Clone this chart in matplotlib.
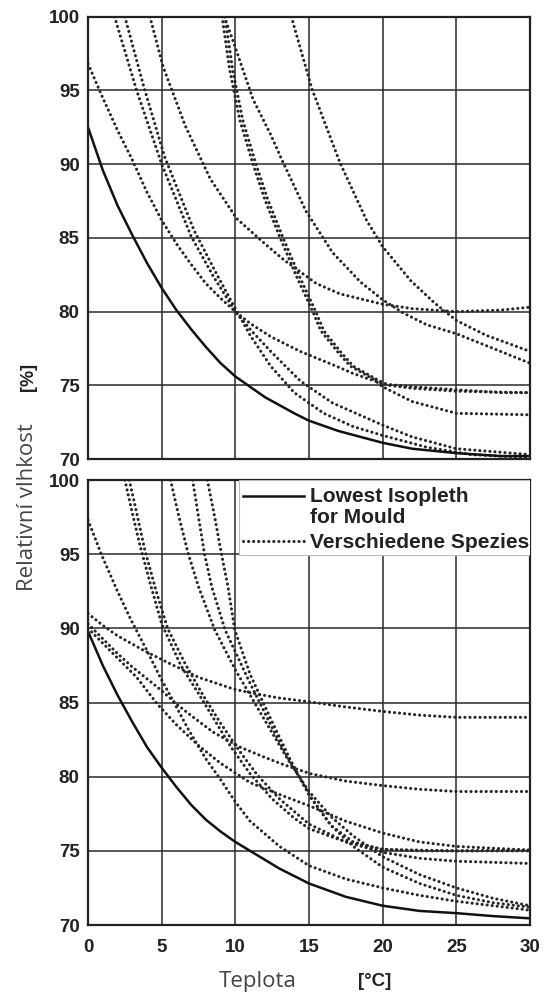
import matplotlib
matplotlib.use("Agg")
import matplotlib.pyplot as plt
from matplotlib.patches import Rectangle

# --- upper panel: lowest isopleth + species isopleths ---
top_solid_t = [0, 1, 2, 3, 4, 5, 6, 7, 8, 9, 10, 12, 14, 15, 17, 20, 22, 25, 28, 30]
top_solid_rh = [92.5, 89.6, 87.2, 85.2, 83.3, 81.6, 80.1, 78.8, 77.6, 76.5, 75.6,
                74.2, 73.1, 72.6, 71.9, 71.1, 70.7, 70.4, 70.2, 70.2]

top_species = [
    ([0, 1, 2, 3, 4, 5, 6, 7, 8, 9, 10, 11, 12.4, 14.4, 16.6, 18, 20, 22, 25, 28, 30],
     [96.8, 94.5, 92.3, 90.3, 88.1, 86.2, 84.6, 83.2, 81.9, 80.9, 80.0, 79.2, 78.3,
      77.3, 76.4, 75.8, 75.1, 74.9, 74.7, 74.5, 74.5]),
    ([1.8, 3.3, 5, 7, 8.5, 10, 11, 12.4, 14.4, 16.6, 20, 22, 25, 30],
     [100, 95, 90, 85.1, 82.4, 80, 78.8, 77.3, 75.3, 73.8, 72.3, 71.5, 70.7, 70.3]),
    ([2.5, 3.8, 5.2, 7.2, 8.7, 10, 11, 12.4, 14, 16, 18, 20, 23, 26, 30],
     [100, 95.2, 90.5, 85.5, 82.6, 80.2, 78.4, 76.3, 74.5, 73.1, 72.2, 71.6, 70.8, 70.3, 70.1]),
    ([4.2, 5.1, 6.6, 8.3, 10.1, 12, 13.3, 15.5, 17.1, 20, 22, 25, 28, 30],
     [100, 96.6, 92.6, 89.0, 86.3, 84.6, 83.5, 81.9, 81.2, 80.5, 80.2, 80.0, 80.1, 80.3]),
    ([9.1, 9.6, 10.3, 11.2, 12, 13, 14.1, 15.3, 15.8, 17, 17.8, 19.4, 20, 22, 25, 30],
     [100, 96.5, 93, 90, 87.6, 85.1, 82.5, 79.9, 78.7, 77.2, 76.3, 75.4, 74.9, 73.9, 73.1, 73.0]),
    ([9.3, 9.8, 10.5, 11.4, 12.2, 13.2, 14.3, 15.5, 16.0, 17.2, 18.0, 19.6, 20.4, 22, 25, 30],
     [100, 96.5, 93, 90, 87.6, 85.1, 82.5, 79.9, 78.7, 77.2, 76.3, 75.4, 75.0, 74.8, 74.6, 74.5]),
    ([9.25, 9.9, 11.2, 12.4, 13.2, 14.8, 16.6, 18.5, 20, 21.4, 23, 25, 27.5, 30],
     [100, 98.2, 94.4, 92.0, 90.2, 86.8, 84.0, 82.0, 80.8, 79.9, 79.1, 78.5, 77.5, 76.5]),
    ([13.8, 15.2, 17.1, 18.9, 20, 21.9, 23.5, 25, 27, 30],
     [100, 95.1, 90.1, 86.2, 84.4, 82.1, 80.6, 79.4, 78.4, 77.3]),
]

# --- lower panel ---
bot_solid_t = [0, 1, 2, 3, 4, 5, 6, 7, 8, 9, 10, 11, 12, 13, 15, 17.5, 20, 22.5, 25, 27.5, 30]
bot_solid_rh = [89.8, 87.5, 85.5, 83.7, 82.0, 80.6, 79.3, 78.1, 77.1, 76.3, 75.6, 75.0,
                74.4, 73.8, 72.8, 71.9, 71.3, 70.95, 70.8, 70.6, 70.45]

bot_species = [
    ([0, 0.9, 2, 2.9, 4, 4.9, 6, 6.8, 8, 9, 10, 11, 13, 15, 17.5, 20, 22.5, 25, 27.5, 30],
     [97.3, 95.0, 92.5, 90.6, 88.5, 86.7, 84.7, 83.2, 81.2, 79.8, 78.3, 77.0, 75.3, 74.0,
      73.1, 72.5, 72.0, 71.6, 71.3, 71.0]),
    ([0, 1, 2, 3.8, 5.6, 7.5, 9.9, 11.3, 13, 15, 17.5, 20, 22.5, 25, 30],
     [91.0, 90.2, 89.5, 88.5, 87.6, 86.7, 85.9, 85.6, 85.3, 85.05, 84.7, 84.4, 84.15, 84.0, 84.0]),
    ([0, 1, 2, 3, 4, 5, 6, 7.15, 8.5, 10.3, 12, 13.3, 15.1, 17.5, 20, 22.5, 25, 30],
     [90.3, 89.3, 88.3, 87.4, 86.6, 85.8, 84.9, 84.0, 83.0, 82.0, 81.3, 80.8, 80.2, 79.7,
      79.4, 79.15, 79.0, 79.0]),
    ([0, 1.5, 3.3, 4.7, 6, 7.5, 9, 11, 13, 15.1, 17.5, 20, 22.5, 25, 30],
     [90.0, 88.5, 86.7, 84.9, 83.5, 82.1, 80.9, 79.6, 78.8, 78.0, 77.0, 76.2, 75.6, 75.3, 75.05]),
    ([2.5, 3.0, 3.5, 4.2, 5.0, 6.3, 7.5, 8.6, 9.7, 11, 12.5, 14, 15, 17.5, 20, 22.5, 25, 30],
     [100, 97.8, 95.7, 93.1, 90.3, 87.5, 85.6, 83.8, 82.0, 80.2, 78.5, 77.2, 76.5, 75.6,
      75.1, 75.05, 75.0, 75.0]),
    ([2.8, 3.3, 3.85, 4.6, 5.4, 6.6, 7.8, 9, 10.3, 11.5, 13, 15, 17.5, 20, 22.5, 25, 30],
     [100, 97.8, 95.3, 92.6, 90.0, 87.6, 85.5, 83.6, 81.7, 80.1, 78.5, 76.8, 75.6, 74.9,
      74.5, 74.3, 74.15]),
    ([5.6, 6.2, 6.8, 7.5, 8.6, 10, 12, 13.6, 15, 16.5, 18, 20, 22.5, 25, 27.5, 30],
     [100, 97.4, 95.05, 92.8, 89.9, 87.2, 83.8, 81.1, 79.0, 77.3, 76.0, 74.6, 73.4, 72.5, 71.8, 71.3]),
    ([7.1, 7.5, 7.9, 8.4, 9.3, 10.9, 12.7, 13.5, 15, 16.5, 18, 20, 22.5, 25, 27.5, 30],
     [100, 97.5, 95.05, 92.8, 89.9, 86.5, 82.9, 81.4, 78.8, 76.7, 75.3, 73.9, 72.8, 72.0, 71.5, 71.2]),
    ([8.1, 8.6, 9.05, 9.5, 9.96, 11, 12.4, 13.7, 15.1, 16.5, 18, 20, 22.5, 25, 30],
     [100, 97.5, 95.05, 92.8, 89.9, 86.9, 83.9, 81.2, 78.6, 76.7, 75.6, 75.1, 75.0, 75.0, 75.05]),
]

x_ticks = [0, 5, 10, 15, 20, 25, 30]
y_ticks = [70, 75, 80, 85, 90, 95, 100]

INK = "#222222"
TICK_FONT = dict(family="Liberation Sans", weight="bold", size=13.5)
# round-capped near-zero dashes -> separate dots
DOT = (0, (0.05, 1.6))
DOT_KW = dict(color="#262626", lw=2.2, ls=DOT, dash_capstyle="round")

fig = plt.figure(figsize=(5.44, 9.94), dpi=100)
ax_top = fig.add_axes([0.1618, 0.5382, 0.8125, 0.4450])
ax_bot = fig.add_axes([0.1618, 0.0694, 0.8125, 0.4477])


def style(ax, show_x):
    ax.set_xlim(0, 30)
    ax.set_ylim(70, 100)
    ax.set_xticks(x_ticks)
    ax.set_yticks(y_ticks)
    ax.grid(True, color="#2a2a2a", lw=1.1)
    ax.set_axisbelow(True)
    for sp in ax.spines.values():
        sp.set_linewidth(1.6)
        sp.set_color(INK)
    ax.tick_params(length=0, pad=6)
    ax.set_yticklabels([str(v) for v in y_ticks], color=INK, **TICK_FONT)
    if show_x:
        ax.tick_params(axis="x", pad=10)
        ax.set_xticklabels([str(v) for v in x_ticks], color=INK, **TICK_FONT)
    else:
        ax.set_xticklabels([])


for ax, solid_t, solid_rh, species, show_x in [
        (ax_top, top_solid_t, top_solid_rh, top_species, False),
        (ax_bot, bot_solid_t, bot_solid_rh, bot_species, True)]:
    style(ax, show_x)
    for t, rh in species:
        ax.plot(t, rh, **DOT_KW)
    ax.plot(solid_t, solid_rh, color="#111111", lw=1.8, solid_capstyle="round")

# legend box in the lower panel
ax = ax_bot
ax.add_patch(Rectangle((0.342, 0.832), 0.658, 0.168, transform=ax.transAxes,
                       facecolor="white", edgecolor="#bbbbbb", lw=0.8, zorder=3))
ax.plot([0.35, 0.488], [0.965, 0.965], transform=ax.transAxes, color="#111111",
        lw=1.8, zorder=4)
ax.plot([0.35, 0.488], [0.862, 0.862], transform=ax.transAxes, zorder=4, **DOT_KW)
leg_font = dict(family="Liberation Sans", weight="bold", size=15, color=INK)
ax.text(0.502, 0.963, "Lowest Isopleth", transform=ax.transAxes, va="center",
        zorder=5, **leg_font)
ax.text(0.502, 0.915, "for Mould", transform=ax.transAxes, va="center",
        zorder=5, **leg_font)
ax.text(0.502, 0.859, "Verschiedene Spezies", transform=ax.transAxes, va="center",
        zorder=5, **leg_font)

# axis titles
fig.text(28 / 544, 1 - 507 / 994, "Relativní vlhkost", rotation=90, ha="center",
         va="center", family="Open Sans", size=16, color="#444444")
fig.text(28 / 544, 1 - 377 / 994, "[%]", rotation=90, ha="center", va="center",
         family="Liberation Sans", weight="bold", size=13, color=INK)
fig.text(258 / 544, 1 - 981 / 994, "Teplota", ha="center", va="center",
         family="Open Sans", size=16, color="#444444")
fig.text(375 / 544, 1 - 981 / 994, "[°C]", ha="center", va="center",
         family="Liberation Sans", weight="bold", size=13.5, color=INK)

fig.savefig("out.png", dpi=100, facecolor="white")
